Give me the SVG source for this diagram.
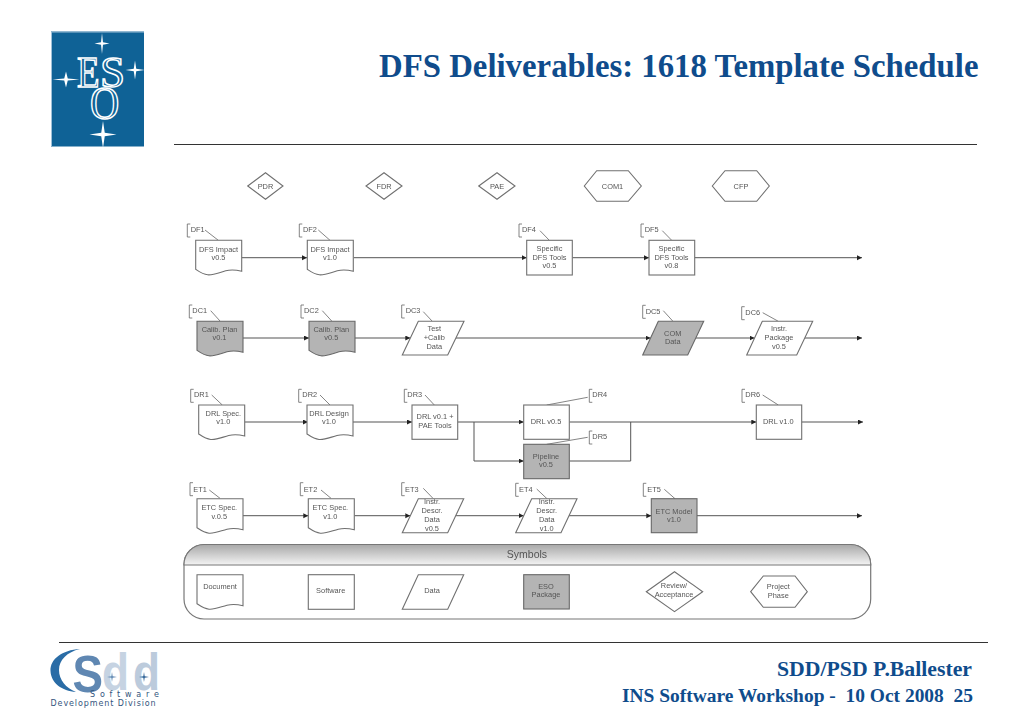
<svg xmlns="http://www.w3.org/2000/svg" width="1023" height="723" viewBox="0 0 1023 723">
<defs>
<style>
text{font-family:"Liberation Sans",Arial,sans-serif;font-size:7.4px;fill:#555}
.c{text-anchor:middle}
.s{fill:#fff;stroke:#707070;stroke-width:1.1}
.g{fill:#b4b4b4;stroke:#686868;stroke-width:1.1}
.l{fill:none;stroke:#666;stroke-width:.8}
.w{fill:none;stroke:#555;stroke-width:1;marker-end:url(#a)}
.n{fill:none;stroke:#555;stroke-width:1}
.t{font-family:"Liberation Serif","Times New Roman",serif;font-weight:bold;fill:#0f4c8c}
.lg{font-family:"Liberation Serif",serif;fill:#0f6296;stroke:#fff;stroke-width:1.5}
.st{fill:#fff}
.big{font-family:"Liberation Sans",sans-serif;font-weight:bold}
</style>
<marker id="a" markerUnits="userSpaceOnUse" markerWidth="6" markerHeight="6" refX="5" refY="2.5" orient="auto"><path d="M0 0L5 2.5L0 5Z" fill="#222"/></marker>
<path id="doc" d="M0 0H46V31C40 29.5 36 29 30 30.5C24 32 18 35 12 34.5C7 34 3 31 0 29Z"/>
<path id="lab" d="M3 0H0V13H3"/>
<path id="star" d="M0 -10L1.3 -1.3L10 0L1.3 1.3L0 10L-1.3 1.3L-10 0L-1.3 -1.3Z"/>
<linearGradient id="hd" x1="0" y1="0" x2="0" y2="1"><stop offset="0" stop-color="#a8a8a8"/><stop offset="1" stop-color="#f4f4f4"/></linearGradient>
<filter id="b" x="-2%" y="-2%" width="104%" height="104%"><feGaussianBlur stdDeviation="0.35"/></filter>
</defs>
<rect width="1023" height="723" fill="#fff"/>

<g id="eso-logo">
<rect x="51" y="31.500" width="93" height="115" fill="#0f6296"/>
<path d="M51.500 146V32H144" fill="none" stroke="#9fc0d8" stroke-width="1"/>
<use href="#star" class="st" transform="translate(102 43.500) scale(.75 1.050)"/>
<use href="#star" class="st" transform="translate(66 79.500) scale(1.350 .8)"/>
<use href="#star" class="st" transform="translate(135 70) scale(.95)"/>
<use href="#star" class="st" transform="translate(103 134.500) scale(1.350)"/>
<text class="lg" transform="translate(77 86.500) scale(.82 1)" style="font-size:45px">E</text>
<text class="lg" transform="translate(100 87)" style="font-size:45px">S</text>
<text class="lg" transform="translate(90 119) scale(.88 1)" style="font-size:46px">O</text>
</g>
<text id="title" class="t" x="379" y="77" style="font-size:32.800px">DFS Deliverables: 1618 Template Schedule</text>
<path d="M174 144.500H977" stroke="#333" stroke-width="1"/>
<path d="M59 642.500H988" stroke="#333" stroke-width="1"/>

<g id="diagram" filter="url(#b)">
<g id="connectors">
<path class="w" d="M241.700 257.700H307"/><path class="w" d="M353.700 257.700H526.700"/><path class="w" d="M572.300 257.700H649"/><path class="w" d="M694.700 257.700H862"/>
<path class="w" d="M243 338H309"/><path class="w" d="M355 338H410.300"/><path class="w" d="M456 338H650.500"/><path class="w" d="M695.700 338H754.500"/><path class="w" d="M804.700 338H862"/>
<path class="w" d="M244.700 422H308"/><path class="w" d="M353 422H412"/><path class="w" d="M457.700 422H523.700"/><path class="w" d="M474 422V461H523.700"/><path class="w" d="M569.300 422H756.300"/><path class="n" d="M569.300 461H630.700V422"/><path class="w" d="M801.700 422H863"/>
<path class="w" d="M243 515.700H308.300"/><path class="w" d="M354.300 515.700H410.300"/><path class="w" d="M455.700 515.700H523.700"/><path class="w" d="M569 515.700H651.300"/><path class="w" d="M697 515.700H862"/>
</g>

<g id="PDR"><path class="s" d="M247.700 186L265.500 172.700L283 186L265.500 199.300Z"/><text class="c" x="265.500" y="188.500">PDR</text></g>
<g id="FDR"><path class="s" d="M366 186L384 172.700L402 186L384 199.300Z"/><text class="c" x="384" y="188.500">FDR</text></g>
<g id="PAE"><path class="s" d="M478.700 186L497 172.700L515 186L497 199.300Z"/><text class="c" x="497" y="188.500">PAE</text></g>
<g id="COM1"><path class="s" d="M584.300 186L596.700 170.700H628.300L641.300 186L628.300 201.300H596.700Z"/><text class="c" x="612.500" y="188.500">COM1</text></g>
<g id="CFP"><path class="s" d="M712.300 186L725 170.700H756.700L769.300 186L756.700 201.300H725Z"/><text class="c" x="741" y="188.500">CFP</text></g>

<g id="DF1"><use href="#lab" class="l" x="187.300" y="224"/><text x="190.700" y="232.300">DF1</text><path class="l" d="M205 230L218.300 240.300"/><use href="#doc" class="s" x="195.700" y="240.300"/><text class="c" x="218.500" y="251.700">DFS Impact</text><text class="c" x="218.500" y="260.300">v0.5</text></g>
<g id="DF2"><use href="#lab" class="l" x="299.300" y="224"/><text x="303" y="232.300">DF2</text><path class="l" d="M318.300 230L330 240.300"/><use href="#doc" class="s" x="307.300" y="240.300"/><text class="c" x="330" y="251.700">DFS Impact</text><text class="c" x="330" y="260.300">v1.0</text></g>
<g id="DF4"><use href="#lab" class="l" x="519" y="224"/><text x="522" y="232.300">DF4</text><path class="l" d="M540 230.700L549.300 240.300"/><rect class="s" x="526.700" y="240.300" width="45.600" height="34.700"/><text class="c" x="549.500" y="251">Specific</text><text class="c" x="549.500" y="259.700">DFS Tools</text><text class="c" x="549.500" y="268.300">v0.5</text></g>
<g id="DF5"><use href="#lab" class="l" x="641" y="224"/><text x="644.700" y="232.300">DF5</text><path class="l" d="M662.300 230.700L671.700 240.300"/><rect class="s" x="649" y="240.300" width="45.700" height="34.700"/><text class="c" x="671.500" y="251">Specific</text><text class="c" x="671.500" y="259.700">DFS Tools</text><text class="c" x="671.500" y="268.300">v0.8</text></g>

<g id="DC1"><use href="#lab" class="l" x="189.300" y="305"/><text x="192.300" y="313.300">DC1</text><path class="l" d="M210.700 310.700L220 321"/><use href="#doc" class="g" x="197" y="321.300"/><text class="c" x="219.500" y="332">Calib. Plan</text><text class="c" x="219.500" y="340.300">v0.1</text></g>
<g id="DC2"><use href="#lab" class="l" x="301" y="305"/><text x="304" y="313.300">DC2</text><path class="l" d="M322.300 310.700L331.700 321"/><use href="#doc" class="g" x="309" y="321.300"/><text class="c" x="331.300" y="332">Calib. Plan</text><text class="c" x="331.300" y="340.300">v0.5</text></g>
<g id="DC3"><use href="#lab" class="l" x="401.700" y="305"/><text x="405.700" y="313.300">DC3</text><path class="l" d="M423.300 311.700L432.300 321.300"/><path class="s" d="M418.300 321.300H464L447.700 355H402.300Z"/><text class="c" x="434.300" y="330.700">Test</text><text class="c" x="434.300" y="339.700">+Calib</text><text class="c" x="434.300" y="348.700">Data</text></g>
<g id="DC5"><use href="#lab" class="l" x="642.700" y="305.300"/><text x="645.700" y="313.700">DC5</text><path class="l" d="M663.300 310.700L672.700 321"/><path class="g" d="M658.300 321.300H703.700L687.700 355H642.700Z"/><text class="c" x="672.700" y="335.700">COM</text><text class="c" x="672.700" y="344.300">Data</text></g>
<g id="DC6"><use href="#lab" class="l" x="741.700" y="306.700"/><text x="745.300" y="314.700">DC6</text><path class="l" d="M762.700 312.700L778.300 321.300"/><path class="s" d="M762.300 321.300H812.700L796.700 355H746.700Z"/><text class="c" x="779" y="331">Instr.</text><text class="c" x="779" y="340">Package</text><text class="c" x="779" y="348.700">v0.5</text></g>

<g id="DR1"><use href="#lab" class="l" x="190.700" y="389.300"/><text x="194" y="397.300">DR1</text><path class="l" d="M211.700 395L222.300 405"/><use href="#doc" class="s" x="198.700" y="405"/><text class="c" x="223.300" y="415.700">DRL Spec.</text><text class="c" x="223.300" y="424.300">v1.0</text></g>
<g id="DR2"><use href="#lab" class="l" x="298.700" y="389.300"/><text x="302.300" y="397.300">DR2</text><path class="l" d="M320 395L330 405"/><use href="#doc" class="s" x="307" y="405"/><text class="c" x="329" y="415.700">DRL Design</text><text class="c" x="329" y="424.300">v1.0</text></g>
<g id="DR3"><use href="#lab" class="l" x="404.300" y="389.300"/><text x="407.300" y="397.300">DR3</text><path class="l" d="M425 395L434.300 405"/><rect class="s" x="412" y="405" width="45.700" height="34.300"/><text class="c" x="435" y="419">DRL v0.1 +</text><text class="c" x="435" y="428">PAE Tools</text></g>
<g id="DR4"><use href="#lab" class="l" x="589.300" y="389.300"/><text x="592.300" y="397.300">DR4</text><path class="l" d="M587.700 397.300L546.700 405"/><rect class="s" x="523.700" y="405" width="45.600" height="34.300"/><text class="c" x="546" y="423.700">DRL v0.5</text></g>
<g id="DR5"><use href="#lab" class="l" x="589.300" y="431"/><text x="592.300" y="439">DR5</text><path class="l" d="M587.700 437.300L546.700 444.300"/><rect class="g" x="523.700" y="444.300" width="45.600" height="34.400"/><text class="c" x="546" y="458.700">Pipeline</text><text class="c" x="546" y="467.300">v0.5</text></g>
<g id="DR6"><use href="#lab" class="l" x="742" y="389.300"/><text x="745.300" y="397.300">DR6</text><path class="l" d="M762.700 395L778.300 405"/><rect class="s" x="756.300" y="405" width="45.400" height="34.300"/><text class="c" x="778.300" y="423.700">DRL v1.0</text></g>

<g id="ET1"><use href="#lab" class="l" x="190" y="482.700"/><text x="193.300" y="491.700">ET1</text><path class="l" d="M209.300 490L220 498.300"/><use href="#doc" class="s" x="197" y="498.700"/><text class="c" x="219.300" y="510">ETC Spec.</text><text class="c" x="219.300" y="518.700">v.0.5</text></g>
<g id="ET2"><use href="#lab" class="l" x="300.300" y="482.700"/><text x="303.700" y="491.700">ET2</text><path class="l" d="M321 490L331 498.300"/><use href="#doc" class="s" x="308.300" y="498.700"/><text class="c" x="330.300" y="510">ETC Spec.</text><text class="c" x="330.300" y="518.700">v1.0</text></g>
<g id="ET3"><use href="#lab" class="l" x="401.700" y="482.700"/><text x="405" y="491.700">ET3</text><path class="l" d="M423.300 488.300L433.300 498.700"/><path class="s" d="M418.300 498.700H463.700L447.700 532.700H402.300Z"/><text class="c" x="432" y="504">Instr.</text><text class="c" x="432" y="512.700">Descr.</text><text class="c" x="432" y="521.700">Data</text><text class="c" x="432" y="530.700">v0.5</text></g>
<g id="ET4"><use href="#lab" class="l" x="515.700" y="483.300"/><text x="519" y="491.700">ET4</text><path class="l" d="M536.700 489L547.300 499"/><path class="s" d="M531.700 498.700H577L561 532.700H515.700Z"/><text class="c" x="546.700" y="504">Instr.</text><text class="c" x="546.700" y="512.700">Descr.</text><text class="c" x="546.700" y="521.700">Data</text><text class="c" x="546.700" y="530.700">v1.0</text></g>
<g id="ET5"><use href="#lab" class="l" x="643.300" y="483.300"/><text x="647.300" y="491.700">ET5</text><path class="l" d="M664.300 489.300L675 498.700"/><rect class="g" x="651.300" y="498.700" width="45.700" height="34"/><text class="c" x="674" y="513.700">ETC Model</text><text class="c" x="674" y="522">v1.0</text></g>

<g id="symbols">
<rect x="184" y="544.500" width="686.700" height="74.500" rx="20" ry="20" fill="#fff" stroke="#777" stroke-width="1.200"/>
<path d="M184 565V564.500A20 20 0 0 1 204 544.500H850.700A20 20 0 0 1 870.700 564.500V565Z" fill="url(#hd)" stroke="#777" stroke-width="1.200"/>
<text class="c" x="527" y="557.700" style="font-size:10.500px">Symbols</text>
<g id="sym-document"><use href="#doc" class="s" x="197" y="574.700"/><text class="c" x="220" y="589.300">Document</text></g>
<g id="sym-software"><rect class="s" x="308.300" y="574.700" width="46" height="34.600"/><text class="c" x="330.700" y="593.300">Software</text></g>
<g id="sym-data"><path class="s" d="M418.300 574.700H463.700L447.700 609.300H402.300Z"/><text class="c" x="432" y="593.300">Data</text></g>
<g id="sym-package"><rect class="g" x="523.700" y="574.700" width="45.600" height="34.300"/><text class="c" x="546" y="589.300">ESO</text><text class="c" x="546" y="597.300">Package</text></g>
<g id="sym-review"><path class="s" d="M646.300 591.700L674.500 571.700L702.700 591.700L674.500 611.700Z"/><text class="c" x="674" y="588.300">Review/</text><text class="c" x="674" y="597.300">Acceptance</text></g>
<g id="sym-phase"><path class="s" d="M750.700 591.700L763.300 576H795L807.300 591.700L795 607.300H763.300Z"/><text class="c" x="778.300" y="589">Project</text><text class="c" x="778.300" y="597.700">Phase</text></g>
</g>
</g>

<g id="sdd-logo">
<path d="M80 649C62 650 50 659 50.500 671C51 683 62 691 76 692C66 688 59 680 59 670C59 660 67 652 80 649Z" fill="#2a6ca6"/>
<text class="big" transform="translate(72.500 692) scale(.88 1)" style="font-size:52px;fill:#5f87b2">S</text>
<text class="big" transform="translate(102 690) scale(.85 1)" style="font-size:52px;fill:#c6d3e2">d</text>
<text class="big" transform="translate(133 690) scale(.85 1)" style="font-size:52px;fill:#bccbdc">d</text>
<use href="#star" fill="#5f87b2" transform="translate(112 677) scale(.5)"/>
<use href="#star" fill="#2a5f94" transform="translate(144 677) scale(.5)"/>
<text x="90" y="697" style="font-family:'DejaVu Sans',sans-serif;font-size:8px;fill:#33557d;letter-spacing:4.800px">Software</text>
<text x="50.500" y="705.500" style="font-family:'DejaVu Sans',sans-serif;font-size:8px;fill:#33557d;letter-spacing:.9px">Development Division</text>
</g>
<text class="t" x="777" y="676" textLength="195" lengthAdjust="spacingAndGlyphs" style="font-size:20px">SDD/PSD P.Ballester</text>
<text class="t" x="622" y="701.500" textLength="351" lengthAdjust="spacingAndGlyphs" style="font-size:18px;white-space:pre">INS Software Workshop -  10 Oct 2008  25</text>
</svg>
